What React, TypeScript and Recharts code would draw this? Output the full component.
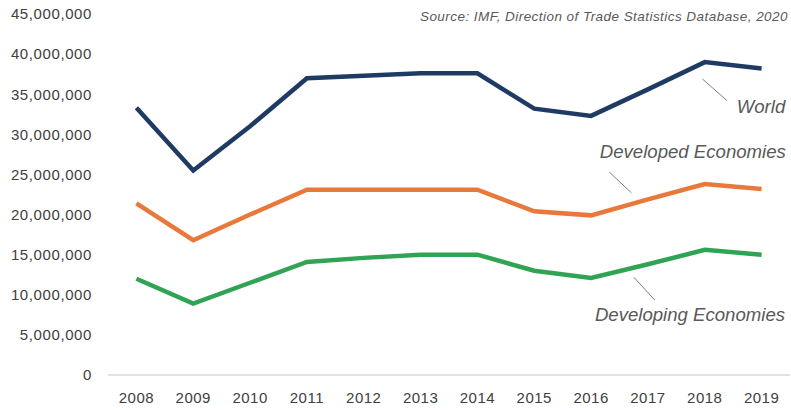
import React from "react";
import { LineChart, Line, XAxis, YAxis, ReferenceLine, ReferenceDot } from "recharts";

const years = [2008, 2009, 2010, 2011, 2012, 2013, 2014, 2015, 2016, 2017, 2018, 2019];
const world = [33.3, 25.5, 31.0, 37.0, 37.3, 37.6, 37.6, 33.2, 32.3, 35.6, 39.0, 38.2];
const developed = [21.4, 16.8, 20.0, 23.1, 23.1, 23.1, 23.1, 20.4, 19.9, 21.9, 23.8, 23.2];
const developing = [12.0, 8.9, 11.5, 14.1, 14.6, 15.0, 15.0, 13.0, 12.1, 13.8, 15.6, 15.0];
const yTicks = [0, 5, 10, 15, 20, 25, 30, 35, 40, 45].map((v) => v * 1e6);

const data = years.map((year, i) => ({
  year,
  world: world[i] * 1e6,
  developed: developed[i] * 1e6,
  developing: developing[i] * 1e6,
}));

// annotation positions in data units: [x, y in millions]
const labels = [
  { text: "World", x: 2018.99, y: 33.5, leader: [[2017.96, 36.9], [2018.39, 34.2]] },
  { text: "Developed Economies", x: 2017.79, y: 27.8, leader: [[2016.32, 25.3], [2016.71, 22.7]] },
  { text: "Developing Economies", x: 2017.74, y: 7.6, leader: [[2016.75, 12.2], [2017.12, 9.35]] },
];

const gray = "#595959";
const tickGray = "#404040";
const font = "'Liberation Sans', Arial, sans-serif";

const fmt = (v: number) => v.toLocaleString("en-US");

export default function App() {
  return (
    <div style={{ position: "absolute", left: 0, top: 0, width: 791, height: 410, background: "#fff", fontFamily: font }}>
      <div
        style={{
          position: "absolute",
          right: 3,
          top: 9,
          fontSize: 13.5,
          letterSpacing: 0.45,
          fontStyle: "italic",
          color: gray,
          whiteSpace: "nowrap",
        }}
      >
        Source: IMF, Direction of Trade Statistics Database, 2020
      </div>
      <LineChart width={791} height={410} data={data} margin={{ top: 14, right: 1, bottom: 5, left: 0 }}>
        <XAxis
          dataKey="year"
          type="number"
          domain={[2007.5, 2019.5]}
          ticks={years}
          tickLine={false}
          tickMargin={11}
          axisLine={{ stroke: "#d9d9d9", strokeWidth: 1.5 }}
          tick={{ fill: tickGray, fontSize: 15, fontFamily: font, letterSpacing: 0.5 }}
          height={30}
        />
        <YAxis
          domain={[0, 45e6]}
          ticks={yTicks}
          tickFormatter={fmt}
          axisLine={false}
          tickLine={false}
          tickMargin={10}
          width={108}
          tick={{ fill: tickGray, fontSize: 15, fontFamily: font, letterSpacing: 0.6 }}
        />
        <Line dataKey="world" stroke="#1f3b63" strokeWidth={4.5} dot={false} isAnimationActive={false} />
        <Line dataKey="developed" stroke="#e8793a" strokeWidth={4.5} dot={false} isAnimationActive={false} />
        <Line dataKey="developing" stroke="#31a354" strokeWidth={4.5} dot={false} isAnimationActive={false} />
        {labels.map((l) => (
          <ReferenceLine
            key={l.text + "-line"}
            segment={[
              { x: l.leader[0][0], y: l.leader[0][1] * 1e6 },
              { x: l.leader[1][0], y: l.leader[1][1] * 1e6 },
            ]}
            stroke="#7f7f7f"
            strokeWidth={1}
          />
        ))}
        {labels.map((l) => (
          <ReferenceDot
            key={l.text}
            x={l.x}
            y={l.y * 1e6}
            r={0}
            shape={(p: any) => (
              <text
                x={p.cx}
                y={p.cy}
                textAnchor="middle"
                dominantBaseline="central"
                fill={gray}
                fontSize={18.6}
                fontStyle="italic"
                fontFamily={font}
              >
                {l.text}
              </text>
            )}
          />
        ))}
      </LineChart>
    </div>
  );
}
